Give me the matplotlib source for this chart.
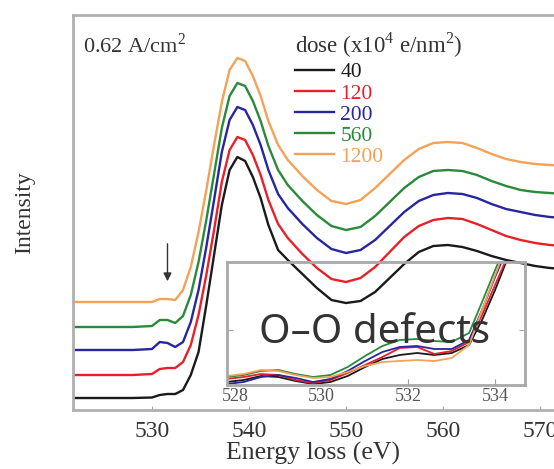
import matplotlib.pyplot as plt

plt.rcParams['font.family'] = ['Liberation Serif', 'DejaVu Serif']
plt.rcParams['mathtext.fontset'] = 'custom'
plt.rcParams['mathtext.rm'] = 'Liberation Serif'

# main spectra (energy in eV, intensity in arbitrary units, already offset)
energy = [522, 528, 530, 530.8, 531.6, 532.4, 533.2, 534, 534.8, 535.6, 536.4,
          537.2, 538, 538.8, 539.6, 540.4, 541.2, 542, 543, 544, 545.5, 547,
          548.5, 550, 551.5, 553, 554.5, 556, 557.5, 559, 560.5, 562, 563.5,
          565, 566.5, 568, 569.5, 571, 572.5]

i40 = [1.2, 1.2, 1.25, 1.5, 1.6, 1.6, 2.0, 3.5, 5.8, 10.5, 15.5, 20.5, 24.0,
       25.3, 24.9, 23.3, 21.2, 18.5, 16.0, 15.0, 13.6, 12.2, 11.0, 10.7, 10.9,
       11.8, 13.2, 14.6, 15.8, 16.4, 16.5, 16.3, 15.9, 15.4, 15.0, 14.7, 14.4,
       14.2, 14.1]
i120 = [3.5, 3.5, 3.6, 4.1, 4.2, 4.2, 4.8, 6.5, 9.5, 13.5, 18.0, 22.8, 26.0,
        27.3, 27.0, 25.5, 23.5, 21.0, 18.6, 17.2, 15.6, 14.2, 13.1, 12.8, 13.2,
        14.3, 15.8, 17.3, 18.4, 19.0, 19.2, 19.1, 18.6, 18.0, 17.4, 17.0, 16.7,
        16.5, 16.4]
i200 = [6.0, 6.0, 6.1, 6.8, 6.7, 6.3, 6.8, 8.8, 12.0, 16.3, 21.0, 25.8, 29.0,
        30.3, 30.0, 28.5, 26.5, 24.0, 21.6, 20.2, 18.6, 17.2, 16.1, 15.7, 16.0,
        17.0, 18.4, 19.8, 20.9, 21.5, 21.7, 21.6, 21.2, 20.6, 20.1, 19.8, 19.5,
        19.3, 19.2]
i560 = [8.3, 8.3, 8.4, 9.0, 9.0, 8.7, 9.4, 11.5, 14.8, 19.0, 23.6, 28.2, 31.4,
        32.7, 32.4, 30.9, 28.9, 26.4, 24.0, 22.5, 20.9, 19.5, 18.4, 18.0, 18.3,
        19.4, 20.8, 22.2, 23.3, 23.9, 24.0, 23.9, 23.5, 22.9, 22.4, 22.0, 21.8,
        21.7, 21.6]
i1200 = [10.8, 10.8, 10.8, 11.1, 11.1, 11.0, 12.0, 14.3, 17.8, 22.0, 26.5, 30.8,
         34.0, 35.2, 34.9, 33.4, 31.4, 28.9, 26.5, 25.0, 23.4, 22.0, 20.9, 20.6,
         21.0, 22.2, 23.6, 25.0, 26.1, 26.7, 26.8, 26.7, 26.2, 25.6, 25.1, 24.8,
         24.6, 24.5, 24.4]

# inset: pre-edge region
e_in = [527.8, 528.2, 528.6, 529.0, 529.4, 529.8, 530.2, 530.6, 531.0, 531.4,
        531.8, 532.2, 532.6, 533.0, 533.4, 533.7, 534.0, 534.3, 534.7]
in40 = [0.3, 0.5, 0.9, 0.8, 0.4, 0.1, 0.3, 0.9, 1.8, 2.6, 3.0, 3.2, 3.0, 3.2,
        4.0, 6.5, 9.5, 12.8, 16]
in120 = [0.6, 0.8, 1.1, 1.0, 0.5, 0.2, 0.5, 1.2, 2.0, 2.8, 3.7, 3.8, 3.1, 3.4,
         4.3, 7.0, 10.0, 13.0, 16]
in200 = [0.1, 0.3, 0.8, 1.0, 0.7, 0.3, 0.6, 1.4, 2.4, 3.3, 3.8, 3.9, 3.6, 3.6,
         4.5, 7.5, 10.8, 13.8, 16]
in560 = [0.8, 1.0, 1.4, 1.5, 1.1, 0.8, 1.0, 1.8, 2.9, 3.9, 4.5, 4.6, 4.4, 4.3,
         5.2, 8.3, 11.5, 14.5, 16]
in1200 = [0.9, 1.1, 1.5, 1.4, 1.0, 0.7, 0.8, 1.3, 1.9, 2.3, 2.4, 2.5, 2.4, 2.7,
          4.0, 7.5, 11.0, 14.3, 16]

doses = ['40', '120', '200', '560', '1200']
colors = ['#1a1a1a', '#e8202a', '#2626a0', '#2a8a3a', '#f3a257']
main_series = [i40, i120, i200, i560, i1200]
inset_series = [in40, in120, in200, in560, in1200]

fig = plt.figure(figsize=(5.54, 4.69), dpi=100)
ax = fig.add_axes([73 / 554, 59 / 469, 481 / 554, 395 / 469])

for vals, c, d in zip(main_series, colors, doses):
    ax.plot(energy, vals, color=c, lw=1.7, label=d)

ax.set_xlim(521.86, 571.44)
ax.set_ylim(0, 39.5)
ax.set_xticks([530, 540, 550, 560, 570])
ax.set_yticks([])
ax.tick_params(axis='x', direction='in', length=3, color='#aaaaaa',
               labelsize=17, pad=8, labelcolor='#333333')
for s in ['left', 'top', 'bottom']:
    ax.spines[s].set_color('#b0b0b0')
    ax.spines[s].set_linewidth(2)
ax.spines['right'].set_visible(False)
ax.set_xlabel('Energy loss (eV)', fontsize=18.5, color='#333333', labelpad=0)
ax.set_ylabel('Intensity', fontsize=17, color='#333333', labelpad=27)

ax.text(0.02, 0.955, '0.62 A/cm$^{\\mathrm{2}}$', transform=ax.transAxes,
        fontsize=16, color='#333333', va='top', ha='left')

leg = ax.legend(loc='upper left', bbox_to_anchor=(0.462, 0.962),
                frameon=False, fontsize=15.5, labelcolor='linecolor',
                title='dose (x10$^{\\mathrm{4}}$ e/nm$^{\\mathrm{2}}$)',
                title_fontsize=16.5, alignment='left', handlelength=1.8,
                handletextpad=0.3, labelspacing=0.05, borderpad=0,
                borderaxespad=0)
leg.get_title().set_color('#333333')
leg._legend_box.sep = 2

# arrow marking the pre-edge feature
ax.annotate('', xy=(531.6, 12.6), xytext=(531.6, 16.9),
            arrowprops=dict(arrowstyle='-|>', color='#333333', lw=1,
                            mutation_scale=12))

# inset
axi = fig.add_axes([227 / 554, 84 / 469, 298 / 554, 123 / 469])
axi.set_facecolor('none')
for vals, c in zip(inset_series, colors):
    axi.plot(e_in, vals, color=c, lw=1.3)
axi.set_xlim(527.815, 534.69)
axi.set_ylim(0, 12.3)
axi.set_xticks([528, 530, 532, 534])
axi.set_yticks([5.5])
axi.set_yticklabels([])
axi.tick_params(axis='both', direction='in', length=4, color='#a0a0a0',
                labelsize=13, pad=2, labelcolor='#555555', right=True)
for s in axi.spines.values():
    s.set_color('#a8a8a8')
    s.set_linewidth(2)

fig.text(375 / 554, (469 - 343) / 469, 'O\u2013O defects', family='Noto Sans',
         fontsize=29, color='#333333', ha='center', va='baseline')

fig.savefig('out.png', dpi=100)
